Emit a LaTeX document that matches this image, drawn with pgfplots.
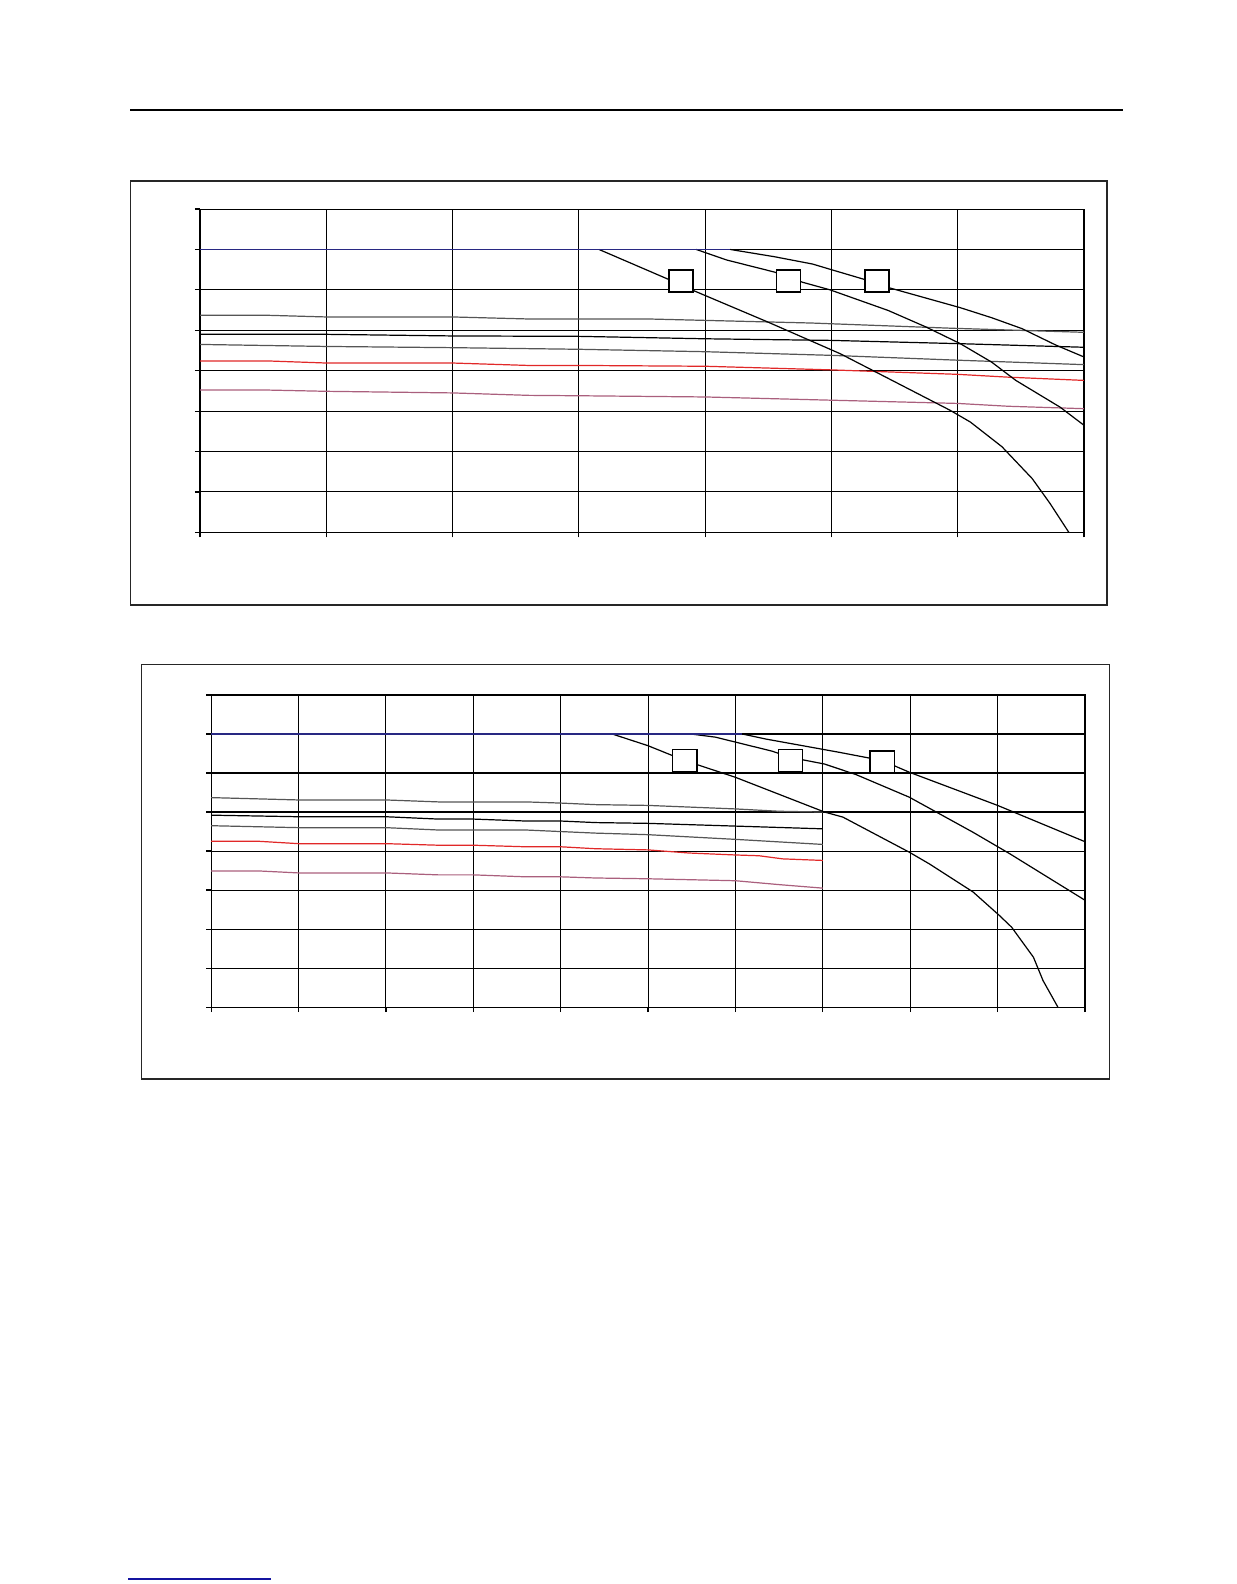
\documentclass[border=0pt]{standalone}
\usepackage{pgfplots}
\pgfplotsset{compat=1.18}
\definecolor{navyline}{RGB}{40,40,130}
\definecolor{redline}{RGB}{225,40,40}
\definecolor{pinkline}{RGB}{170,95,125}
\definecolor{grayline}{RGB}{85,85,85}
\definecolor{linkblue}{RGB}{20,20,160}
\pgfplotsset{
  panel/.style={
    scale only axis, anchor=south west,
    ymin=0, ymax=8, ytick={0,...,8},
    grid=major, major grid style={black, line width=0.55bp},
    xticklabel=\empty, yticklabel=\empty,
    xtick pos=bottom, ytick pos=left,
    tick align=outside, major tick length=2.5bp,
    tick style={black, line width=0.6bp},
    axis line style={black, line width=0.55bp},
    every axis plot/.append style={line width=0.6bp, no markers},
  },
}
\tikzset{
  lab/.style={draw=black, fill=white, line width=0.8bp, inner sep=0pt,
    minimum width=12bp, minimum height=11bp},
}
\begin{document}
\begin{tikzpicture}[x=0.5bp, y=0.5bp]
  % page rule and link underline
  \draw[line width=1bp] (129,1475) -- (1112,1475);
  \draw[linkblue, line width=1bp] (127,21) -- (268,21);
  % frames
  \draw[line width=0.7bp, black!85] (129,1405) rectangle (1096,985);
  \draw[line width=0.7bp, black!85] (140,926) rectangle (1098,516);

  % first chart
  \begin{axis}[panel, at={(99bp,528.5bp)}, width=437.5bp, height=160bp,
      xmin=0, xmax=7, xtick={0,...,7}]
    \draw[line width=1.2bp] (rel axis cs:0,0) -- (rel axis cs:0,1);
    \addplot[grayline] coordinates {(0,5.37) (0.55,5.37) (1,5.33) (2,5.33) (2.6,5.28) (3.55,5.28) (4.84,5.18) (5.96,5.05) (7,4.95)};
    \addplot[black] coordinates {(0,4.90) (1,4.90) (2,4.86) (3,4.85) (4,4.79) (5,4.75) (6,4.67) (7,4.58)};
    \addplot[grayline] coordinates {(0,4.65) (1,4.60) (2,4.57) (3,4.53) (4,4.47) (5,4.38) (6,4.26) (7,4.15)};
    \addplot[redline] coordinates {(0,4.24) (0.55,4.24) (1,4.19) (2,4.19) (2.6,4.13) (3,4.13) (4,4.11) (5,4.02) (6,3.91) (6.4,3.84) (7,3.76)};
    \addplot[pinkline] coordinates {(0,3.52) (0.55,3.52) (1,3.49) (2,3.45) (2.6,3.39) (3,3.38) (4,3.35) (5,3.27) (6,3.19) (6.4,3.12) (7,3.06)};
    \addplot[black] coordinates {(3.16,7) (3.71,6.26) (3.91,5.98) (4.50,5.20) (5.07,4.42) (5.35,3.97) (5.94,3.02) (6.10,2.73) (6.35,2.12) (6.59,1.33) (6.73,0.72) (6.88,0)};
    \addplot[black] coordinates {(3.93,7) (4.17,6.74) (4.55,6.44) (4.77,6.19) (4.99,6.0) (5.45,5.49) (5.75,5.08) (6.02,4.67) (6.27,4.21) (6.46,3.76) (6.81,3.10) (7,2.65)};
    \addplot[black] coordinates {(4.20,7) (4.55,6.82) (4.85,6.64) (5.0,6.5) (5.26,6.26) (5.46,6.05) (6.02,5.56) (6.27,5.31) (6.51,5.04) (6.78,4.63) (7,4.34)};
    \addplot[navyline, line width=0.9bp] coordinates {(0,7) (4.2,7)};
    \node[lab] at (axis cs:3.81,6.22) {};
    \node[lab] at (axis cs:4.66,6.22) {};
    \node[lab] at (axis cs:5.36,6.22) {};
  \end{axis}

  % second chart
  \begin{axis}[panel, at={(104.5bp,293.5bp)}, width=432.5bp, height=154.5bp,
      xmin=0, xmax=10, xtick={0,...,10}]
    \draw[line width=1.2bp] (rel axis cs:0,0) -- (rel axis cs:0,1);
    \addplot[grayline] coordinates {(0,5.37) (1,5.31) (2,5.31) (2.6,5.26) (3.6,5.26) (4,5.23) (4.4,5.19) (5,5.17) (6,5.08) (6.5,5.02) (7,5.0)};
    \addplot[black] coordinates {(0,4.92) (1,4.88) (2,4.88) (2.6,4.82) (3,4.82) (3.6,4.77) (4,4.77) (4.4,4.73) (5,4.71) (6,4.64) (7,4.57)};
    \addplot[grayline] coordinates {(0,4.65) (1,4.60) (2,4.60) (2.6,4.54) (3.6,4.54) (4,4.50) (4.4,4.46) (5,4.42) (6,4.30) (7,4.17)};
    \addplot[redline] coordinates {(0,4.25) (0.55,4.25) (1,4.19) (2,4.19) (2.6,4.15) (3,4.15) (3.6,4.11) (4,4.11) (4.4,4.06) (5,4.03) (5.47,3.95) (6,3.90) (6.27,3.88) (6.54,3.80) (7,3.76)};
    \addplot[pinkline] coordinates {(0,3.49) (0.55,3.49) (1,3.44) (2,3.44) (2.6,3.39) (3,3.39) (3.6,3.34) (4,3.34) (4.4,3.31) (5,3.29) (6,3.24) (6.5,3.14) (7,3.05)};
    \addplot[black] coordinates {(4.59,7) (5.0,6.70) (5.42,6.32) (6.0,5.89) (7.02,5.0) (7.23,4.87) (7.99,3.97) (8.22,3.67) (8.72,2.95) (9.02,2.35) (9.16,2.05) (9.41,1.28) (9.52,0.68) (9.69,0)};
    \addplot[black] coordinates {(5.49,7) (5.77,6.92) (6.42,6.56) (6.63,6.40) (7.02,6.23) (7.38,5.96) (7.99,5.38) (8.72,4.48) (9.14,3.93) (10,2.74)};
    \addplot[black] coordinates {(6.08,7) (6.35,6.87) (7.19,6.53) (7.68,6.32) (7.99,6.02) (9.0,5.17) (10,4.24)};
    \addplot[navyline, line width=0.7bp] coordinates {(0,7) (6.08,7)};
    \node[lab] at (axis cs:5.42,6.32) {};
    \node[lab] at (axis cs:6.63,6.32) {};
    \node[lab] at (axis cs:7.68,6.28) {};
  \end{axis}
  % page size fixed at the end
  \pgfresetboundingbox
  \useasboundingbox (0,16) rectangle (1224,1584);
\end{tikzpicture}
\end{document}
